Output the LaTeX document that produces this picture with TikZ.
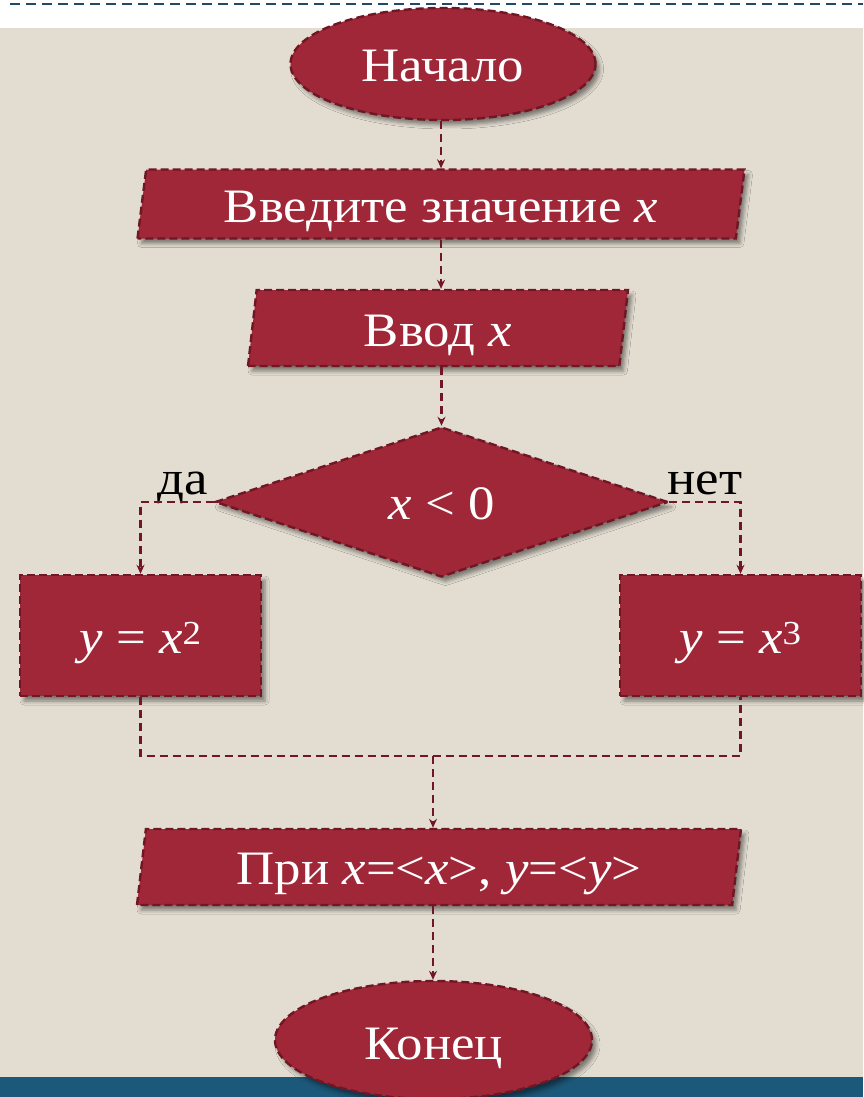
\documentclass[tikz,border=0pt]{standalone}
\usepackage{fontspec}
\setmainfont{Liberation Serif}[FakeStretch=1.1]
\usetikzlibrary{shapes.geometric,arrows.meta,shadows.blur}
\definecolor{boxred}{RGB}{160,39,55}
\definecolor{edgered}{RGB}{112,22,36}
\definecolor{beige}{RGB}{227,221,209}
\definecolor{barblue}{RGB}{28,88,122}
\definecolor{lineblue}{RGB}{30,75,105}
\newcommand{\droptext}[2]{\raisebox{-#1pt}[\height][\depth]{#2}}
\begin{document}
\begin{tikzpicture}[x=1pt,y=-1pt,
  shapebase/.style={fill=boxred, draw=edgered, line width=2.4pt, dash pattern=on 8pt off 4pt,
    text=white, font=\fontsize{48}{56}\selectfont, inner sep=0pt,
    blur shadow={shadow xshift=4pt, shadow yshift=-5pt, shadow blur radius=4pt, shadow opacity=45}},
  terminal/.style={shapebase, ellipse},
  iobox/.style={shapebase, trapezium, trapezium left angle=78, trapezium right angle=102, trapezium stretches body},
  procbox/.style={shapebase, rectangle},
  decision/.style={shapebase, diamond},
  flow/.style={draw=edgered, line width=2.4pt, dash pattern=on 8pt off 5pt},
  flowarrow/.style={flow, -{Stealth[length=9pt,width=8pt]}},
  branchlabel/.style={font=\fontsize{48}{56}\selectfont, text=black, inner sep=0pt}
]
\useasboundingbox (0,0) rectangle (863,1097);
\fill[white] (0,0) rectangle (863,1097);
\fill[beige] (0,28) rectangle (863,1077);
\fill[barblue] (0,1077) rectangle (863,1097);
\draw[lineblue, line width=2pt, dash pattern=on 10pt off 6pt] (10,4) -- (863,4);

\node[terminal, minimum width=305pt, minimum height=112pt] (start) at (443,64) {\droptext{2}{Начало}};
\node[iobox, minimum width=607pt, minimum height=69pt] (in1) at (441,204) {\droptext{7}{Введите значение \textit{x}}};
\node[iobox, minimum width=380pt, minimum height=76pt] (in2) at (438,328) {\droptext{7}{Ввод \textit{x}}};
\node[decision, minimum width=453pt, minimum height=150pt] (dec) at (441.5,502) {\droptext{2}{\textit{x} < 0}};
\node[procbox, minimum width=241pt, minimum height=121pt] (yes) at (140.5,635.5) {\droptext{8}{\textit{y} = \textit{x}\textsuperscript{2}}};
\node[procbox, minimum width=241pt, minimum height=121pt] (no) at (740.5,635.5) {\droptext{8}{\textit{y} = \textit{x}\textsuperscript{3}}};
\node[iobox, minimum width=604pt, minimum height=76pt] (out) at (439,867) {\droptext{7}{При \textit{x}=<\textit{x}>, \textit{y}=<\textit{y}>}};
\node[terminal, minimum width=317pt, minimum height=118pt] (end) at (433.5,1040) {\droptext{8}{Конец}};

\node[branchlabel, anchor=base] (yeslabel) at (183,494) {да};
\node[branchlabel, anchor=base] (nolabel) at (705,494) {нет};

\coordinate (join) at (433,756);
\draw[flowarrow] (in1.north |- start.south) -- (in1.north);
\draw[flowarrow] (in1.south) -- (in1.south |- in2.north);
\draw[flowarrow] (dec.north |- in2.south) -- (dec.north);
\draw[flowarrow] (dec.west) -| (yes.north);
\draw[flowarrow] (dec.east) -| (no.north);
\draw[flow] (yes.south) |- (join) -| (no.south);
\draw[flowarrow] (join) -- (join |- out.north);
\draw[flowarrow] (join |- out.south) -- (join |- end.north);
\end{tikzpicture}
\end{document}
